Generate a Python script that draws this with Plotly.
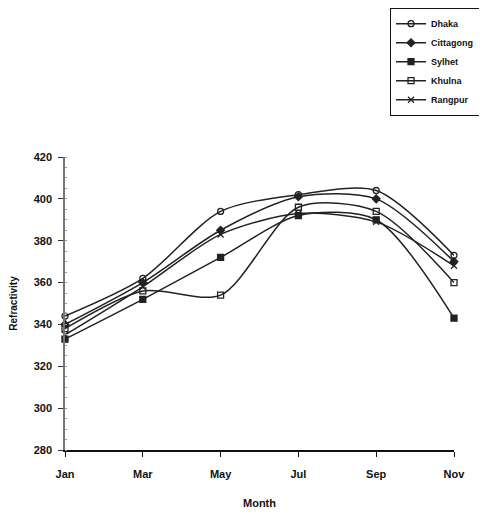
import plotly.graph_objects as go

months = ["Jan", "Mar", "May", "Jul", "Sep", "Nov"]
dhaka = [344, 362, 394, 402, 404, 373]
cittagong = [340, 360, 385, 401, 400, 370]
sylhet = [333, 352, 372, 392, 390, 343]
khulna = [338, 356, 354, 396, 394, 360]
rangpur = [335, 358, 383, 393, 389, 368]
y_ticks = [280, 300, 320, 340, 360, 380, 400, 420]

series = [
    ("Dhaka", dhaka, "circle-open"),
    ("Cittagong", cittagong, "diamond"),
    ("Sylhet", sylhet, "square"),
    ("Khulna", khulna, "square-open"),
    ("Rangpur", rangpur, "x-thin-open"),
]

xpos = list(range(len(months)))
fig = go.Figure()
for name, vals, sym in series:
    fig.add_trace(go.Scatter(
        x=xpos, y=vals, name=name, mode="lines+markers",
        line=dict(color="#222", width=1.5, shape="spline", smoothing=0.8),
        marker=dict(symbol=sym, size=6, color="#222",
                    line=dict(color="#222", width=1.3)),
        cliponaxis=False,
    ))

fam = "Liberation Sans Narrow, Arial Narrow, Liberation Sans, Arial"
fig.update_layout(
    width=487, height=515,
    margin=dict(l=57, r=41, t=149, b=73, autoexpand=False),
    paper_bgcolor="white", plot_bgcolor="white",
    font=dict(family=fam, size=11, color="#111", weight="bold"),
    showlegend=True,
    legend=dict(xref="container", yref="container",
                x=0.784, y=1.0, xanchor="left", yanchor="top",
                bordercolor="#111", borderwidth=1.2, bgcolor="white",
                font=dict(size=9, family=fam, color="#111", weight="bold"),
                tracegroupgap=0, itemwidth=30),
    xaxis=dict(range=[0, 5], tickvals=xpos, ticktext=months,
               showgrid=False, zeroline=False, showline=True,
               linecolor="#111", linewidth=1.5, ticks="outside",
               ticklen=5, tickcolor="#111", ticklabelstandoff=8,
               title=dict(text="Month", font=dict(size=11), standoff=20)),
    yaxis=dict(range=[280, 420], tickvals=y_ticks, showgrid=False,
               zeroline=False, showline=True, linecolor="#777",
               linewidth=1.5, ticks="outside", ticklen=5, tickcolor="#333",
               ticklabelstandoff=4,
               minor=dict(ticks="inside", ticklen=2, dtick=5, tickcolor="#999"),
               title=dict(text="Refractivity", font=dict(size=10), standoff=24)),
)
fig.write_html("out.html")
